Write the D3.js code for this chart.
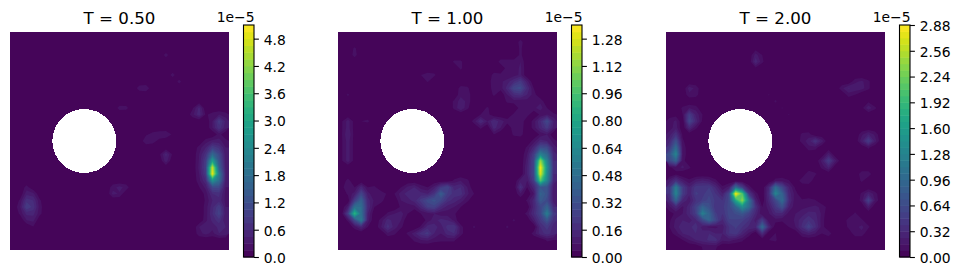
<!DOCTYPE html>
<html>
<head>
<meta charset="utf-8">
<script src="https://cdn.jsdelivr.net/npm/d3@7"></script>
<style>
  html, body { margin: 0; padding: 0; background: #fff; }
  svg { display: block; }
  text { font-family: "DejaVu Sans", sans-serif; fill: #000; }
</style>
</head>
<body>
<div id="chart-area"><svg></svg></div>
<script>
const chartSize = { width: 961, height: 275 };
const gridSize = 33;

const titles = ["T = 0.50", "T = 1.00", "T = 2.00"];

// contour levels, units of 1e-7
const levelsA = d3.range(0, 35).map(i => i * 15);
const levelsB = d3.range(0, 35).map(i => i * 4);
const levelsC = d3.range(0, 37).map(i => i * 8);

const ticksA = ["0.0", "0.6", "1.2", "1.8", "2.4", "3.0", "3.6", "4.2", "4.8"];
const ticksB = ["0.00", "0.16", "0.32", "0.48", "0.64", "0.80", "0.96", "1.12", "1.28"];
const ticksC = ["0.00", "0.32", "0.64", "0.96", "1.28", "1.60", "1.92", "2.24", "2.56", "2.88"];

// hole in the domain, grid units
const hole = { col: 11.2, row: 16.5, radius: 4.82 };

// field values, 1e-7. each run is [row, first col, ...values], anything not listed is 0
const fieldA = [
  [3, 23, 22], [6, 24, 22], [7, 25, 21], [8, 19, 25, 28],
  [11, 16, 22, 21], [11, 27, 12, 50], [12, 27, 25, 55, 12], [12, 30, 22, 30, 22],
  [13, 30, 30, 85, 40], [14, 30, 30, 70, 35], [15, 31, 22],
  [15, 20, 12, 22, 28, 30, 12], [16, 20, 30, 24, 8],
  [16, 29, 22, 35, 35, 22], [17, 28, 22, 45, 90, 70, 30], [18, 28, 30, 70, 170, 110, 35],
  [18, 22, 10, 50, 12], [19, 23, 40],
  [19, 28, 32, 90, 290, 130, 35], [20, 28, 35, 95, 470, 150, 40], [21, 28, 30, 85, 500, 200, 45],
  [22, 28, 25, 60, 260, 180, 40], [23, 28, 14, 35, 110, 110, 30], [24, 29, 22, 60, 65, 25],
  [25, 29, 18, 45, 55, 25], [26, 29, 22, 55, 90, 30], [27, 29, 22, 60, 100, 35],
  [28, 29, 25, 50, 70, 30], [29, 28, 30, 45, 35, 50, 45], [30, 28, 25, 35, 25, 45, 40],
  [23, 15, 25, 35, 25], [24, 15, 35, 28],
  [23, 2, 22], [24, 2, 40, 35], [25, 1, 18, 70, 60, 18], [26, 1, 28, 90, 70, 22],
  [27, 1, 18, 50, 50, 20], [28, 2, 30, 35], [29, 3, 14]
];

const fieldB = [
  [1, 27, 6], [2, 2, 5], [2, 27, 5], [3, 2, 6], [3, 27, 5],
  [4, 17, 5, 5], [4, 24, 6, 6, 6, 8], [5, 18, 5], [5, 25, 6, 5, 9], [6, 13, 6, 5], [6, 12, 4],
  [6, 23, 6, 5, 4, 6, 9], [7, 13, 4.5], [7, 23, 8, 7], [7, 24, 6, 10, 16, 22, 10],
  [8, 18, 6, 5], [8, 23, 7, 6], [8, 24, 5, 14, 28, 30, 16, 4], [9, 1, 5], [9, 18, 7, 7], [9, 23, 5],
  [9, 25, 8, 16, 18, 12, 6], [10, 17, 5, 10, 7], [10, 25, 5, 6, 5, 6, 8, 7],
  [11, 17, 5, 12, 5], [11, 22, 5], [11, 27, 6, 8, 7, 10, 4],
  [12, 21, 4, 6], [12, 26, 5, 7, 6], [12, 30, 5, 8, 5],
  [13, 0, 3, 10, 2], [13, 3, 4, 5], [13, 20, 6, 16, 8, 16, 10, 6, 8, 8],
  [13, 29, 6, 16, 30, 12], [14, 0, 3, 10, 2], [14, 21, 5], [14, 23, 14, 8], [14, 26, 7, 7],
  [14, 29, 6, 14, 22, 10], [15, 0, 3, 12, 2], [15, 23, 4], [15, 26, 5, 6], [15, 30, 5, 8],
  [16, 0, 3, 10, 2], [16, 29, 6, 14, 12, 6], [17, 0, 3, 10, 2], [17, 28, 5, 14, 32, 30, 10],
  [18, 0, 3, 10, 2], [18, 28, 8, 24, 60, 45, 14], [19, 0, 3, 10, 2], [19, 28, 10, 28, 115, 60, 16],
  [20, 28, 12, 28, 136, 68, 18], [21, 28, 12, 28, 130, 65, 16],
  [22, 1, 6], [22, 17, 5, 8, 5], [22, 27, 10, 8, 24, 100, 60, 14],
  [23, 0, 3, 6, 4, 14, 4, 5], [23, 9, 4, 9, 12, 6, 4, 10, 22, 28, 14, 16, 8],
  [23, 27, 18, 4, 14, 36, 34, 10],
  [24, 1, 5, 10, 28, 10, 4, 7, 3], [24, 8, 4, 10, 14, 16, 14, 12, 20, 40, 24, 18, 18, 9, 4],
  [24, 27, 8, 0, 8, 42, 34, 8],
  [25, 2, 24, 42, 14, 7, 6], [25, 9, 8, 10, 14, 22, 30, 34, 28, 18, 14, 10, 5],
  [25, 28, 5, 14, 38, 30, 10],
  [26, 1, 10, 50, 48, 16, 4], [26, 9, 5, 6, 6, 14, 24, 26, 16, 10, 8, 4], [26, 29, 14, 28, 42, 16],
  [27, 1, 25, 90, 50, 12], [27, 7, 5, 8, 10, 4], [27, 12, 4, 6, 8, 5, 6, 5], [27, 28, 6, 16, 28, 58, 22],
  [28, 1, 5, 30, 55, 10], [28, 6, 6, 14, 10, 8], [28, 13, 6, 10, 14, 12, 7], [28, 26, 5],
  [28, 29, 10, 22, 35, 18],
  [29, 2, 6, 14, 4], [29, 6, 8, 18, 10, 5], [29, 12, 5, 14, 14, 10, 18, 20, 6], [29, 20, 5], [29, 25, 5],
  [29, 30, 16, 22, 14],
  [30, 7, 7, 5], [30, 10, 5, 10, 18, 22, 12, 8, 14, 16, 6], [30, 29, 6, 14, 18, 14],
  [31, 11, 5, 8, 9, 6, 5, 5, 5], [31, 31, 5, 4]
];

const fieldC = [
  [2, 13, 4], [3, 13, 20, 8], [4, 13, 30, 10], [5, 13, 5],
  [7, 28, 14, 18, 10], [8, 3, 20, 14], [8, 26, 14, 25, 22, 20, 10], [9, 3, 14, 12], [9, 15, 9], [9, 27, 12, 8],
  [10, 16, 10], [10, 30, 6], [11, 2, 10, 16, 12], [11, 17, 9], [11, 29, 5, 22, 10],
  [12, 0, 4, 4, 8, 50, 22, 8], [12, 18, 9],
  [13, 0, 12, 18, 0, 60, 30, 6], [14, 0, 12, 20, 0, 30, 10],
  [15, 0, 20, 40, 6], [15, 20, 10, 12], [15, 29, 14, 25, 14],
  [16, 0, 30, 70, 10], [16, 20, 12, 20, 40, 20], [16, 29, 22, 50, 20],
  [17, 0, 45, 100, 15], [17, 21, 14, 12], [17, 30, 10],
  [18, 0, 70, 130, 16], [18, 24, 22], [19, 0, 60, 90, 12], [19, 23, 20, 50, 20],
  [20, 0, 6, 12, 18, 10], [20, 23, 10, 25],
  [21, 1, 5], [21, 21, 16, 10], [21, 29, 14, 14], [22, 20, 14, 16], [22, 29, 10],
  [22, 0, 20, 40, 20, 10, 20, 25, 20, 10], [22, 16, 12, 14, 9],
  [23, 0, 40, 120, 50, 25, 45, 45, 48, 30, 10, 20, 100, 50, 12], [23, 15, 30, 100, 60, 25, 6],
  [24, 0, 40, 130, 50, 25, 50, 45, 55, 40, 25, 60, 288, 210, 45, 12], [24, 15, 35, 130, 90, 30, 12],
  [24, 29, 10, 25, 12],
  [25, 0, 30, 90, 30, 20, 40, 50, 60, 45, 40, 60, 170, 240, 110, 25], [25, 15, 30, 60, 100, 35, 10, 10, 12, 9],
  [25, 29, 12, 55, 15],
  [26, 0, 14, 30, 14, 30, 55, 90, 70, 40, 45, 60, 90, 140, 100, 40, 8], [26, 15, 20, 45, 70, 25, 10, 14, 16, 18, 14, 4],
  [26, 30, 20],
  [27, 0, 4, 10, 16, 30, 50, 125, 90, 50, 40, 60, 65, 75, 55, 30, 8], [27, 15, 15, 30, 30, 12, 16, 20, 28, 26, 14],
  [27, 28, 10],
  [28, 0, 6, 18, 24, 20, 30, 60, 90, 60, 30, 55, 55, 50, 40, 20, 50, 10, 12, 10, 10, 18, 30, 40, 30, 12],
  [28, 27, 12, 16, 10],
  [29, 0, 8, 20, 30, 30, 36, 20, 14, 14, 20, 40, 50, 40, 30, 30, 100, 30], [29, 18, 8, 16, 34, 55, 34, 12],
  [29, 27, 10, 14, 18, 10],
  [30, 0, 4, 12, 24, 28, 32, 28, 32, 24, 24, 40, 45, 28, 14, 0, 35, 0, 8.5], [30, 20, 16, 22, 16, 8, 14], [30, 28, 14, 14],
  [31, 2, 8, 16, 24, 28, 34, 36, 18, 20, 14, 10], [31, 15, 8, 10],
  [32, 5, 9, 10, 10]
];

const panels = [
  { field: fieldA, levels: levelsA, ticks: ticksA },
  { field: fieldB, levels: levelsB, ticks: ticksB },
  { field: fieldC, levels: levelsC, ticks: ticksC }
];

const lefts = [10, 338, 666];
const plot = { width: 219, top: 32, bottom: 250 };
const bar = { offset: 233.5, width: 10.5, top: 25, bottom: 257 };

const buildGrid = runs => {
  const grid = new Array(gridSize * gridSize).fill(0);
  runs.forEach(([row, col, ...values]) => {
    values.forEach((v, i) => {
      const k = row * gridSize + col + i;
      grid[k] = Math.max(grid[k], v);
    });
  });
  return grid;
};

const drawField = (svg, panel, left) => {
  const x = d3.scaleLinear().domain([0, gridSize]).range([left, left + plot.width]);
  const y = d3.scaleLinear().domain([0, gridSize]).range([plot.top, plot.bottom]);
  const top = panel.levels[panel.levels.length - 1];
  const bandColour = i =>
    d3.interpolateViridis((panel.levels[i] + panel.levels[i + 1]) / 2 / top);

  const g = svg.append("g").attr("class", "field");

  g.append("rect")
    .attr("x", x(0))
    .attr("y", y(0))
    .attr("width", x(gridSize) - x(0))
    .attr("height", y(gridSize) - y(0))
    .attr("fill", bandColour(0));

  const path = d3.geoPath(
    d3.geoTransform({
      point: function(px, py) {
        this.stream.point(x(px), y(py));
      }
    })
  );

  const contours = d3
    .contours()
    .size([gridSize, gridSize])
    .thresholds(panel.levels.slice(1, -1))(buildGrid(panel.field));

  g.selectAll("path")
    .data(contours)
    .enter()
    .append("path")
    .attr("d", path)
    .attr("fill", (d, i) => bandColour(i + 1));

  g.append("circle")
    .attr("cx", x(hole.col))
    .attr("cy", y(hole.row))
    .attr("r", x(hole.radius) - x(0))
    .attr("fill", "#fff")
    .attr("shape-rendering", "crispEdges");
};

const drawBar = (svg, panel, left) => {
  const bx = left + bar.offset;
  const top = panel.levels[panel.levels.length - 1];
  const y = d3.scaleLinear().domain([0, top]).range([bar.bottom, bar.top]);
  const g = svg.append("g").attr("class", "colorbar");

  g.selectAll("rect")
    .data(d3.pairs(panel.levels))
    .enter()
    .append("rect")
    .attr("x", bx)
    .attr("y", d => y(d[1]))
    .attr("width", bar.width)
    .attr("height", d => y(d[0]) - y(d[1]) + 0.5)
    .attr("fill", d => d3.interpolateViridis((d[0] + d[1]) / 2 / top));

  g.append("rect")
    .attr("x", bx)
    .attr("y", bar.top)
    .attr("width", bar.width)
    .attr("height", bar.bottom - bar.top)
    .attr("fill", "none")
    .attr("stroke", "#000")
    .attr("stroke-width", 1.1);

  const axis = d3
    .axisRight(y)
    .tickValues(panel.ticks.map(t => +t * 100))
    .tickFormat((d, i) => panel.ticks[i])
    .tickSize(4.9)
    .tickPadding(4.9);

  const axisG = g
    .append("g")
    .attr("transform", `translate(${bx + bar.width},0)`)
    .call(axis);
  axisG.select(".domain").remove();
  axisG.selectAll("line").attr("stroke", "#000").attr("stroke-width", 1.1);
  axisG.selectAll("text")
    .attr("font-size", 13.89)
    .attr("dy", "0.39em")
    .attr("fill", "#000");

  g.append("text")
    .attr("x", bx + bar.width + 0.5)
    .attr("y", 21.5)
    .attr("text-anchor", "end")
    .attr("font-size", 13.89)
    .text("1e\u22125");
};

const main = () => {
  const svg = d3
    .select("#chart-area svg")
    .attr("width", chartSize.width)
    .attr("height", chartSize.height);

  svg.append("rect")
    .attr("width", chartSize.width)
    .attr("height", chartSize.height)
    .attr("fill", "#fff");

  panels.forEach((panel, i) => {
    drawField(svg, panel, lefts[i]);
    drawBar(svg, panel, lefts[i]);
    svg.append("text")
      .attr("x", lefts[i] + plot.width / 2)
      .attr("y", 24)
      .attr("text-anchor", "middle")
      .attr("font-size", 16.67)
      .text(titles[i]);
  });
};

window.onload = main;
</script>
</body>
</html>
